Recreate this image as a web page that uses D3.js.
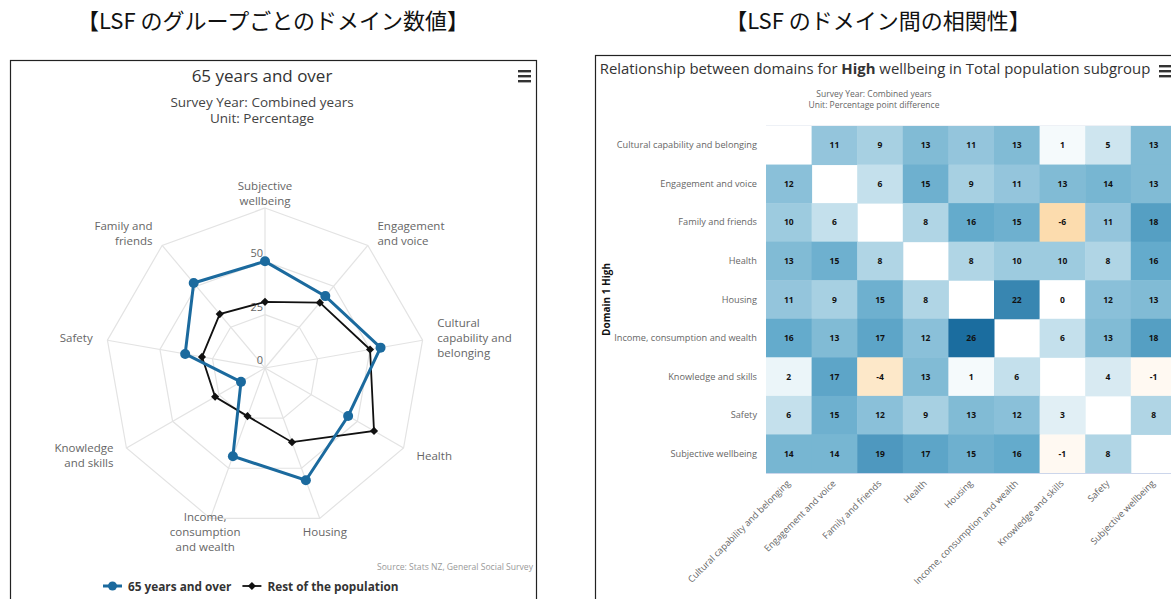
<!DOCTYPE html>
<html><head><meta charset="utf-8">
<script src="https://cdn.jsdelivr.net/npm/d3@7"></script>
<style>body{margin:0;background:#fff}svg{display:block;font-family:"Open Sans",sans-serif}</style>
</head><body><svg id="c" width="1171" height="599"></svg>
<script>
// ---------- Radar data ----------
const radarCategories = ["Subjective wellbeing","Engagement and voice","Cultural capability and belonging","Health","Housing","Income, consumption and wealth","Knowledge and skills","Safety","Family and friends"];
const olderValues = [50, 44, 55, 45, 56, 44, 13, 38, 52];
const restValues  = [31, 40, 50, 59, 37, 24, 27, 30, 33];
const radarTicks = [0, 25, 50, 75];
const seriesNames = ["65 years and over", "Rest of the population"];

// ---------- Heatmap data ----------
const domains = ["Cultural capability and belonging","Engagement and voice","Family and friends","Health","Housing","Income, consumption and wealth","Knowledge and skills","Safety","Subjective wellbeing"];
const rowCultural    = [null, 11, 9, 13, 11, 13, 1, 5, 13];
const rowEngagement  = [12, null, 6, 15, 9, 11, 13, 14, 13];
const rowFamily      = [10, 6, null, 8, 16, 15, -6, 11, 18];
const rowHealth      = [13, 15, 8, null, 8, 10, 10, 8, 16];
const rowHousing     = [11, 9, 15, 8, null, 22, 0, 12, 13];
const rowIncome      = [16, 13, 17, 12, 26, null, 6, 13, 18];
const rowKnowledge   = [2, 17, -4, 13, 1, 6, null, 4, -1];
const rowSafety      = [6, 15, 12, 9, 13, 12, 3, null, 8];
const rowSubjective  = [14, 14, 19, 17, 15, 16, -1, 8, null];
const heatRows = [rowCultural, rowEngagement, rowFamily, rowHealth, rowHousing, rowIncome, rowKnowledge, rowSafety, rowSubjective];

const svg = d3.select("#c");
svg.append("rect").attr("width",1171).attr("height",599).attr("fill","#fff");

// Japanese headings
svg.append("text").attr("x",273).attr("y",29).attr("text-anchor","middle")
  .attr("font-family","'Noto Sans CJK JP'").attr("font-size",22).attr("fill","#111")
  .text("【LSF のグループごとのドメイン数値】");
svg.append("text").attr("x",878).attr("y",29).attr("text-anchor","middle")
  .attr("font-family","'Noto Sans CJK JP'").attr("font-size",22).attr("fill","#111")
  .text("【LSF のドメイン間の相関性】");

// panel boxes
svg.append("rect").attr("x",10.5).attr("y",60.5).attr("width",526).attr("height",600)
  .attr("fill","none").attr("stroke","#222").attr("stroke-width",1.2);
svg.append("rect").attr("x",595.5).attr("y",55.5).attr("width",640).attr("height",600)
  .attr("fill","none").attr("stroke","#222").attr("stroke-width",1.2);

function burger(x,y){
  [0,5,10].forEach(d=>svg.append("rect").attr("x",x).attr("y",y+d).attr("width",13).attr("height",2.4).attr("fill","#333"));
}
burger(518,70); burger(1159,65);

// ---------- Radar ----------
const L = svg.append("g");
L.append("text").attr("x",262).attr("y",82).attr("text-anchor","middle").attr("font-size",17).attr("fill","#333").text("65 years and over");
L.append("text").attr("x",262).attr("y",107).attr("text-anchor","middle").attr("font-size",13.5).attr("fill","#444").text("Survey Year: Combined years");
L.append("text").attr("x",262).attr("y",123).attr("text-anchor","middle").attr("font-size",13.5).attr("fill","#444").text("Unit: Percentage");

const cx = 265, cy = 368, R = 160;
const rScale = d3.scaleLinear().domain([0, 75]).range([0, R]);
const aScale = d3.scaleBand().domain(radarCategories).range([0, 2*Math.PI]);
const ang = c => aScale(c);
const g = L.append("g").attr("transform",`translate(${cx},${cy})`);

radarTicks.slice(1).forEach(t=>{
  g.append("path").attr("fill","none").attr("stroke","#e3e3e3").attr("stroke-width",1.2)
    .attr("d", d3.lineRadial().angle(c=>ang(c)).radius(()=>rScale(t)).curve(d3.curveLinearClosed)(radarCategories));
});
radarCategories.forEach(c=>{
  const a = ang(c);
  g.append("line").attr("x1",0).attr("y1",0)
    .attr("x2",Math.sin(a)*R).attr("y2",-Math.cos(a)*R)
    .attr("stroke","#e3e3e3").attr("stroke-width",1.2);
});
radarTicks.slice(0,3).forEach(t=>{
  g.append("text").attr("x",-2).attr("y",-rScale(t)-4).attr("text-anchor","end")
    .attr("font-size",11).attr("fill","#666").text(t);
});
function wrapWords(words, maxW, fs){
  let lines=[], cur=[];
  const probe = svg.append("text").attr("font-size",fs).attr("visibility","hidden");
  words.forEach(w=>{
    const test = cur.concat([w]).join(" ");
    probe.text(test);
    if (cur.length && probe.node().getComputedTextLength() > maxW){ lines.push(cur.join(" ")); cur=[w]; }
    else cur.push(w);
  });
  if (cur.length) lines.push(cur.join(" "));
  probe.remove();
  return lines;
}
radarCategories.forEach(c=>{
  const a = ang(c);
  const rr = R + 15;
  const x = Math.sin(a)*rr, y = -Math.cos(a)*rr;
  const sx = Math.sin(a);
  const anchor = Math.abs(sx) < 0.45 ? "middle" : (sx > 0 ? "start" : "end");
  const lines = wrapWords(c.split(" "), 80, 11.5);
  const lh = 15;
  const t = g.append("text").attr("font-size",11.5).attr("fill","#666").attr("text-anchor",anchor);
  lines.forEach((ln,i)=>{
    t.append("tspan").attr("x",x).attr("y", y + (i - (lines.length-1)/2)*lh + 4).text(ln);
  });
});

const blue = "#1b6a9e", black = "#111";
const line = d3.lineRadial().angle((d,i)=>ang(radarCategories[i])).radius(d=>rScale(d)).curve(d3.curveLinearClosed);
g.append("path").attr("d", line(restValues)).attr("fill","none").attr("stroke",black).attr("stroke-width",1.8);
g.append("path").attr("d", line(olderValues)).attr("fill","none").attr("stroke",blue).attr("stroke-width",3);
restValues.forEach((v,i)=>{
  const a = ang(radarCategories[i]);
  g.append("path").attr("d", d3.symbol(d3.symbolDiamond2, 42)())
    .attr("transform",`translate(${Math.sin(a)*rScale(v)},${-Math.cos(a)*rScale(v)})`).attr("fill",black);
});
olderValues.forEach((v,i)=>{
  const a = ang(radarCategories[i]);
  g.append("circle").attr("cx",Math.sin(a)*rScale(v)).attr("cy",-Math.cos(a)*rScale(v)).attr("r",5).attr("fill",blue);
});

L.append("text").attr("x",533).attr("y",570).attr("text-anchor","end").attr("font-size",8.6).attr("fill","#999")
  .text("Source: Stats NZ, General Social Survey");

// legend
const lg = L.append("g").attr("transform","translate(103,586)");
let lx = 0;
seriesNames.forEach((s,i)=>{
  const item = lg.append("g").attr("transform",`translate(${lx},0)`);
  item.append("line").attr("x1",0).attr("x2",19).attr("y1",0).attr("y2",0).attr("stroke", i? black: blue).attr("stroke-width", i?1.8:3);
  if (i===0) item.append("circle").attr("cx",9.5).attr("cy",0).attr("r",4.5).attr("fill",blue);
  else item.append("path").attr("d", d3.symbol(d3.symbolDiamond2, 42)()).attr("transform","translate(9.5,0)").attr("fill",black);
  const tx = item.append("text").attr("x",25).attr("y",4.5).attr("font-size",11.8).attr("font-weight","bold").attr("fill","#333").text(s);
  lx += 25 + tx.node().getComputedTextLength() + 11;
});

// ---------- Heatmap ----------
const H = svg.append("g");
const title = H.append("text").attr("x",875).attr("y",74).attr("text-anchor","middle").attr("font-size",14.9).attr("fill","#333");
title.append("tspan").text("Relationship between domains for ");
title.append("tspan").attr("font-weight","bold").text("High");
title.append("tspan").text(" wellbeing in Total population subgroup");
H.append("text").attr("x",874).attr("y",97).attr("text-anchor","middle").attr("font-size",8.5).attr("fill","#666").text("Survey Year: Combined years");
H.append("text").attr("x",874).attr("y",108).attr("text-anchor","middle").attr("font-size",8.5).attr("fill","#666").text("Unit: Percentage point difference");

const gridTop = 126, gridBottom = 473;
const xS = d3.scaleBand().domain(domains).range([766, 766 + 9*45.6]);
const yS = d3.scaleBand().domain(domains).range([gridTop, gridBottom]);
const color = d3.scaleLinear().domain([-6, 0, 8, 16, 26])
  .range(["#fcdcae", "#ffffff", "#b0d5e5", "#64abcc", "#1b6d9f"]).clamp(true);

heatRows.forEach((row, ri)=>{
  row.forEach((v, ci)=>{
    if (v === null) return;
    H.append("rect").attr("x", xS(domains[ci])).attr("y", yS(domains[ri]))
      .attr("width", xS.bandwidth()+0.5).attr("height", yS.bandwidth()+0.5).attr("fill", color(v));
    H.append("text").attr("x", xS(domains[ci]) + xS.bandwidth()/2).attr("y", yS(domains[ri]) + yS.bandwidth()/2 + 3)
      .attr("text-anchor","middle").attr("font-size",8.5).attr("font-weight","bold").attr("fill","#111").text(v);
  });
});
H.append("line").attr("x1",766).attr("x2",1171).attr("y1",gridTop-0.5).attr("y2",gridTop-0.5).attr("stroke","#eef1f6");
H.append("line").attr("x1",766).attr("x2",1171).attr("y1",gridBottom+0.5).attr("y2",gridBottom+0.5).attr("stroke","#ccd6eb");

domains.forEach(d=>{
  H.append("text").attr("x",757).attr("y", yS(d)+yS.bandwidth()/2+3).attr("text-anchor","end")
    .attr("font-size",9.2).attr("fill","#666").text(d);
  const x = xS(d) + xS.bandwidth()/2 + 2, y = gridBottom + 11;
  H.append("text").attr("transform",`translate(${x},${y}) rotate(-45)`).attr("text-anchor","end")
    .attr("font-size",9.2).attr("fill","#666").text(d);
});
H.append("text").attr("transform",`translate(610,${(gridTop+gridBottom)/2}) rotate(-90)`).attr("text-anchor","middle")
  .attr("font-size",10).attr("font-weight","bold").attr("fill","#111").text("Domain 1 High");
</script></body></html>
